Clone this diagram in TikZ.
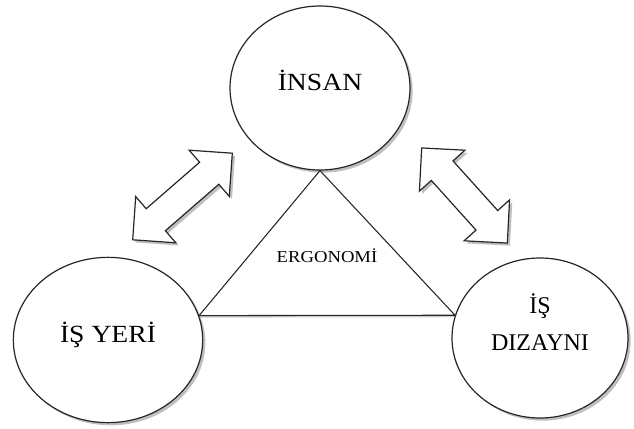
\documentclass[tikz,border=0pt]{standalone}
\usepackage{fontspec}
\setmainfont{Liberation Serif}
\newfontfamily\widefont[FakeStretch=1.12]{Liberation Serif}
\usetikzlibrary{shapes.geometric,shapes.arrows,shadows,positioning}

\begin{document}
\begin{tikzpicture}[
        x=0.75pt, y=-0.75pt,
        soft/.style={drop shadow={opacity=0.5, shadow xshift=2pt, shadow yshift=-2pt}},
        circ/.style={ellipse, draw=black!85, line width=0.9pt, fill=white, soft},
        lbl/.style={font=\widefont\fontsize{18.5}{27}\selectfont, align=center},
        twoway/.style={double arrow, double arrow head extend=12pt, draw=black!85, line width=0.9pt, fill=white, inner sep=10.5pt, soft},
        tri/.style={draw=black!85, line width=0.8pt, fill=white, drop shadow={opacity=0.4, shadow xshift=0.5pt, shadow yshift=-1.5pt}}
    ]
        \useasboundingbox (0,0) rectangle (634,428);
        \node[circ, minimum width=135pt, minimum height=123pt,
              label={[lbl, yshift=6pt]center:İNSAN}] (insan) at (320,88) {};
        \node[circ, minimum width=142pt, minimum height=124pt,
              label={[lbl, yshift=4pt]center:İŞ YERİ}] (yeri) at (108,340) {};
        \node[circ, minimum width=132pt, minimum height=120pt,
              label={[lbl, font=\fontsize{18}{28}\selectfont, yshift=12pt]center:İŞ\\DIZAYNI}] (dizayn) at (540,338) {};
        \draw[tri] (insan.south) -- (yeri.15) -- (dizayn.165) -- cycle;
        \node[font=\widefont\fontsize{12.5}{15}\selectfont] (ergo) at (327,256) {ERGONOMİ};
        \node[twoway, minimum height=99pt, rotate=41] (arrowleft) at (182.5,196.5) {};
        \node[twoway, minimum height=96pt, rotate=-48] (arrowright) at (464.5,195.5) {};
    \end{tikzpicture}
\end{document}
